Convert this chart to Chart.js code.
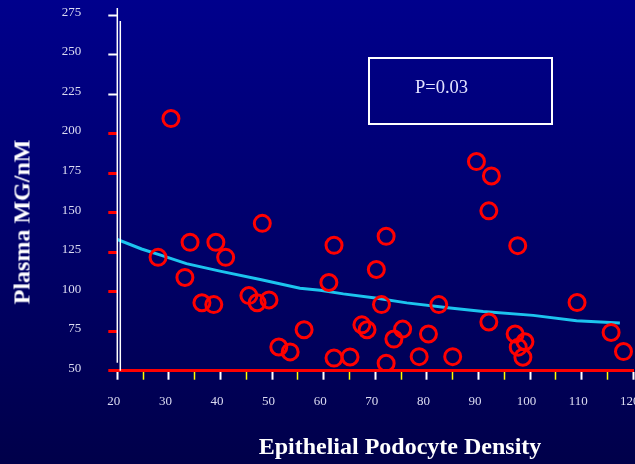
<!DOCTYPE html>
<html>
<head>
<meta charset="utf-8">
<script src="https://cdn.jsdelivr.net/npm/chart.js@4.4.1/dist/chart.umd.min.js"></script>
<style>
html, body { margin: 0; padding: 0; width: 635px; height: 464px; overflow: hidden; }
body {
	position: relative;
	background: linear-gradient(to bottom, rgb(0, 0, 140), rgb(0, 0, 74));
	font-family: "Liberation Serif", "Times New Roman", serif;
}
#chart { position: absolute; left: 0; top: 0; }
.y-title {
	position: absolute; left: 22px; top: 222px;
	transform: translate(-50%, -50%) rotate(-90deg);
	white-space: nowrap; font-weight: bold; font-size: 24px; color: #fff;
}
.x-title {
	position: absolute; left: 400px; top: 446px;
	transform: translate(-50%, -50%);
	white-space: nowrap; font-weight: bold; font-size: 24px; color: #fff;
}
.p-box {
	position: absolute; left: 368px; top: 57px; width: 185px; height: 68px;
	box-sizing: border-box; border: 2px solid #fff;
}
.p-box span {
	position: absolute; left: 45px; top: 18px;
	font-size: 18.5px; color: #e2e2ff;
}
</style>
</head>
<body>
<canvas id="chart" width="660" height="464"></canvas>
<div class="y-title">Plasma MG/nM</div>
<div class="x-title">Epithelial Podocyte Density</div>
<div class="p-box"><span>P=0.03</span></div>
<script>
const densityX = [30.4, 27.9, 34.1, 33.1, 36.4, 38.7, 39.1, 41.0, 45.5, 47.1, 48.1, 49.4, 51.3, 53.5, 56.2,
	61.0, 62.0, 62.0, 65.1, 67.4, 68.4, 70.2, 71.2, 72.1, 72.1, 73.6, 75.3, 78.5, 80.3, 82.3, 85.0,
	89.6, 92.0, 92.0, 92.5, 97.1, 97.6, 97.7, 98.6, 99.0, 109.1, 115.7, 118.1];
const plasmaMG = [209.5, 121.7, 131.2, 109, 93, 91.8, 131.2, 121.7, 97.5, 93, 143.2, 94.8, 65, 61.9, 75.9,
	105.8, 129.3, 58, 58.7, 79, 75.9, 114, 91.8, 135, 54.7, 70, 76.3, 58.9, 73.2, 91.8, 58.9,
	182.3, 151.1, 80.8, 173.2, 73.2, 129.1, 64.9, 58.5, 68.3, 93.1, 74.2, 62.1];

const trendX = [20, 24.7, 29, 33.4, 39.9, 47.7, 55.4, 59.3, 63.8, 70, 76.1, 84.5, 90.9, 100.6, 109, 117.4];
const trendY = [133, 127, 122.5, 117.7, 113, 107.7, 102.2, 100.9, 98.6, 96, 92.9, 89.7, 87.5, 85, 81.6, 80.2];

const xMajorTicks = [20, 30, 40, 50, 60, 70, 80, 90, 100, 110, 120];
const xMinorTicks = [25, 35, 45, 55, 65, 75, 85, 95, 105, 115];
const yTicks = [50, 75, 100, 125, 150, 175, 200, 225, 250, 275];

const tickFont = { family: "'Liberation Serif', 'Times New Roman', serif", size: 13 };
const tickColor = "#dcdcf2";

// second white line next to the y axis, like the original slide
const doubleAxisLine = {
	id: "doubleAxisLine",
	afterDraw(chart) {
		const { ctx, chartArea } = chart;
		ctx.save();
		ctx.strokeStyle = "#ffffff";
		ctx.lineWidth = 1.5;
		ctx.beginPath();
		ctx.moveTo(chartArea.left, chartArea.top - 7);
		ctx.lineTo(chartArea.left, chartArea.bottom - 8);
		ctx.moveTo(chartArea.left + 3, chartArea.top + 6);
		ctx.lineTo(chartArea.left + 3, chartArea.bottom);
		ctx.stroke();
		ctx.restore();
	},
};

new Chart(document.getElementById("chart"), {
	type: "scatter",
	data: {
		datasets: [
			{
				label: "Trend",
				data: trendX.map((x, i) => ({ x, y: trendY[i] })),
				showLine: true,
				borderColor: "#1cc4ee",
				borderWidth: 3,
				pointRadius: 0,
				tension: 0,
				order: 2,
			},
			{
				label: "Patients",
				data: densityX.map((x, i) => ({ x, y: plasmaMG[i] })),
				borderColor: "#ff0000",
				backgroundColor: "rgba(0,0,0,0)",
				borderWidth: 3,
				pointRadius: 8,
				order: 1,
			},
		],
	},
	options: {
		responsive: false,
		animation: false,
		layout: { padding: { top: 15, right: 26.7, bottom: 0, left: 0 } },
		plugins: { legend: { display: false }, tooltip: { enabled: false } },
		scales: {
			x: {
				type: "linear",
				min: 20,
				max: 120,
				afterBuildTicks: (scale) => {
					scale.ticks = [...xMajorTicks, ...xMinorTicks].sort((a, b) => a - b).map((v) => ({ value: v }));
				},
				afterFit: (scale) => {
					scale.height = 93.3;
					scale.paddingLeft = 0;
					scale.paddingRight = 0;
				},
				border: { display: true, color: "#ff0000", width: 3 },
				grid: {
					drawOnChartArea: false,
					drawTicks: true,
					tickLength: 9,
					tickColor: (ctx) => (ctx.tick && ctx.tick.value % 10 === 0 ? "#ffffff" : "#ffff00"),
					tickWidth: (ctx) => (ctx.tick && ctx.tick.value % 10 === 0 ? 2 : 1.5),
				},
				ticks: {
					autoSkip: false,
					maxRotation: 0,
					padding: 14,
					labelOffset: -3.5,
					color: tickColor,
					font: tickFont,
					callback: (v) => (xMajorTicks.includes(v) ? String(v) : ""),
				},
			},
			y: {
				type: "linear",
				min: 50,
				max: 275,
				afterBuildTicks: (scale) => {
					scale.ticks = yTicks.map((v) => ({ value: v }));
				},
				afterFit: (scale) => {
					scale.width = 117.3;
					scale.paddingTop = 0;
					scale.paddingBottom = 0;
				},
				border: { display: false },
				grid: {
					drawOnChartArea: false,
					drawTicks: true,
					tickLength: 9,
					tickColor: (ctx) => (ctx.tick && ctx.tick.value >= 225 ? "#ffffff" : "#ff0000"),
					tickWidth: (ctx) => (ctx.tick && ctx.tick.value >= 225 ? 2 : 3),
				},
				ticks: {
					padding: 27,
					labelOffset: -2.5,
					color: tickColor,
					font: tickFont,
				},
			},
		},
	},
	plugins: [doubleAxisLine],
});
</script>
</body>
</html>
